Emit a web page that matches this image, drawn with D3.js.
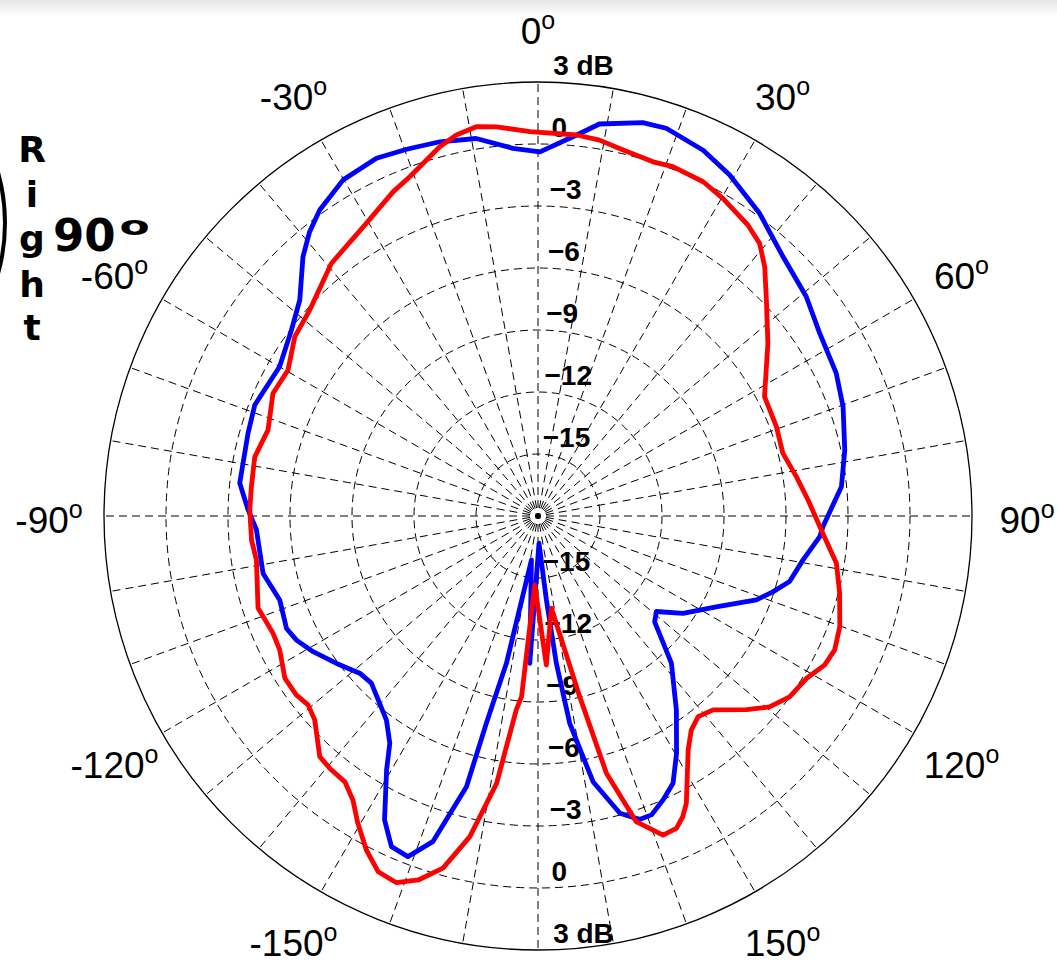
<!DOCTYPE html>
<html>
<head>
<meta charset="utf-8">
<script src="https://cdn.jsdelivr.net/npm/d3@7"></script>
<style>
  body { margin: 0; background: #fff; }
  svg { display: block; }
</style>
</head>
<body>
<div id="chart"></div>
<script>

WIDTH = 1057;
HEIGHT = 964;

CX = 538;
CY = 516;
R_OUT = 434;
R_LABEL = 489;

// dB scale of the rings, -18 dB sits in the centre
var dbDomain = [-18, 3];
var ringDb = [-15, -12, -9, -6, -3, 0];
var ringLabelDb = [-15, -12, -9, -6, -3, 0, 3];
var ringLabels = ["\u221215", "\u221212", "\u22129", "\u22126", "\u22123", "0", "3 dB"];

// angle ticks
var angleTicks = [-150, -120, -90, -60, -30, 0, 30, 60, 90, 120, 150];
var angleTickLabels = ["-150", "-120", "-90", "-60", "-30", "0", "30", "60", "90", "120", "150"];

// blue trace: angle (deg, clockwise from top) and level (dB)
var blueAngle = [-176.8, -171.5, -167.9, -166.0, -165.2, -162.1, -159.1, -156.1, -153.2, -149.2,
    -146.9, -143.4, -135.1, -131.4, -126.2, -121.1, -117.2, -114.1, -108.0, -101.8,
    -92.8, -88.8, -83.7, -74.1, -68.6, -60.0, -53.0, -47.8, -42.2, -38.8,
    -35.5, -30.1, -24.3, -19.7, -14.7, -9.3, -3.9, 0.3, 5.8, 8.9,
    14.9, 18.3, 24.3, 29.3, 36.2, 43.4, 50.7, 57.0, 64.4, 70.3,
    77.9, 84.5, 92.1, 94.2, 99.4, 104.6, 107.9, 111.0, 117.0, 123.9,
    128.9, 132.2, 137.8, 144.5, 149.7, 153.2, 156.2, 159.2, 161.5, 164.6,
    168.3, 171.3, 172.9, 174.3, 177.9];
var blueDb = [-10.86, -15.85, -10.71, -7.67, -4.45, -1.44, -0.36, -0.50, -1.53, -3.69,
    -4.87, -5.70, -6.58, -6.50, -5.92, -5.29, -4.86, -4.67, -4.86, -4.41,
    -4.36, -3.97, -3.48, -3.41, -3.28, -3.56, -3.06, -2.44, -1.07, -0.36,
    0.19, 0.80, 0.99, 0.85, 0.72, 0.51, -0.17, -0.38, 0.53, 1.20,
    1.70, 1.76, 1.42, 0.93, 0.15, -0.74, -1.23, -1.75, -2.00, -2.32,
    -2.82, -3.25, -4.20, -4.33, -5.00, -5.42, -6.06, -6.68, -8.32, -9.55,
    -10.64, -10.38, -8.39, -6.47, -4.71, -3.51, -2.99, -2.53, -2.52, -3.08,
    -4.87, -7.85, -10.82, -13.92, -16.68];

// red trace
var redAngle = [-177.3, -174.8, -173.6, -171.2, -168.0, -164.9, -161.8, -158.9, -155.8, -152.8,
    -149.6, -146.9, -144.0, -140.5, -137.8, -132.4, -129.4, -126.5, -122.7, -117.4,
    -113.9, -108.2, -98.9, -94.8, -88.8, -84.2, -78.2, -72.3, -65.2, -59.7,
    -53.6, -47.9, -39.3, -30.4, -24.1, -20.7, -14.9, -12.1, -9.0, -6.1,
    -1.2, 5.8, 9.3, 13.1, 18.0, 21.1, 26.3, 30.2, 35.8, 39.1,
    42.3, 46.6, 53.1, 62.2, 69.5, 75.6, 81.4, 86.6, 93.5, 99.0,
    104.4, 110.1, 114.3, 117.5, 121.2, 125.7, 129.5, 132.9, 137.9, 141.4,
    144.4, 147.3, 152.7, 154.3, 156.1, 158.6, 162.2, 165.1, 167.0, 171.7,
    176.8];
var redDb = [-14.66, -9.22, -8.56, -4.91, -2.14, -0.35, 0.54, 1.02, 0.87, 0.17,
    -0.77, -1.60, -2.10, -2.17, -2.28, -3.37, -3.60, -3.45, -3.45, -3.92,
    -3.98, -3.74, -4.21, -4.09, -4.05, -4.06, -4.00, -4.29, -3.87, -3.99,
    -3.38, -3.12, -2.21, -1.58, -0.82, -0.45, 0.49, 0.85, 1.07, 0.94,
    0.60, 0.53, 0.43, 0.18, 0.02, 0.12, 0.04, -0.22, -0.64, -1.00,
    -1.70, -2.79, -4.09, -5.61, -5.68, -5.77, -5.35, -4.91, -4.19, -3.38,
    -2.93, -2.45, -2.25, -2.37, -2.82, -3.01, -3.48, -4.23, -5.36, -5.58,
    -5.26, -4.55, -2.35, -1.85, -1.47, -1.42, -2.47, -5.12, -9.03, -13.49,
    -10.78];


var svg = d3.select("#chart").append("svg")
    .attr("width", WIDTH)
    .attr("height", HEIGHT);

// faint grey band along the top edge
var grad = svg.append("defs").append("linearGradient")
    .attr("id", "topband")
    .attr("x1", 0).attr("y1", 0).attr("x2", 0).attr("y2", 1);
grad.append("stop").attr("offset", "0%").attr("stop-color", "#e6e6e6");
grad.append("stop").attr("offset", "100%").attr("stop-color", "#ffffff");
svg.append("rect")
    .attr("x", 0).attr("y", 0)
    .attr("width", WIDTH).attr("height", 16)
    .attr("fill", "url(#topband)");

var r = d3.scaleLinear().domain(dbDomain).range([0, R_OUT]);

var chart = svg.append("g")
    .attr("transform", "translate(" + CX + "," + CY + ")");

// spokes every 10 degrees, dashed outward from the centre
var grid = chart.append("g").attr("class", "grid");

grid.selectAll("line.spoke")
    .data(d3.range(0, 360, 10))
    .enter().append("line")
    .attr("class", "spoke")
    .attr("x1", 0)
    .attr("y1", 0)
    .attr("x2", function(d) { return R_OUT * Math.sin(d * Math.PI / 180); })
    .attr("y2", function(d) { return -R_OUT * Math.cos(d * Math.PI / 180); })
    .attr("stroke", "#000")
    .attr("stroke-width", 1)
    .attr("stroke-dasharray", "8,5")
    .attr("stroke-dashoffset", 5);

grid.selectAll("circle.ring")
    .data(ringDb)
    .enter().append("circle")
    .attr("class", "ring")
    .attr("r", function(d) { return r(d); })
    .attr("fill", "none")
    .attr("stroke", "#000")
    .attr("stroke-width", 1)
    .attr("stroke-dasharray", "8,5");

grid.append("circle")
    .attr("r", r(3))
    .attr("fill", "none")
    .attr("stroke", "#000")
    .attr("stroke-width", 1.3);

// dB labels, above and below the centre
var dbLab = chart.append("g")
    .attr("font-family", "'Liberation Sans', Arial, sans-serif")
    .attr("font-weight", "bold")
    .attr("font-size", 28);

ringLabelDb.forEach(function(v, i) {
    var rr = r(v);
    dbLab.append("text")
        .attr("x", 3 + rr * 0.028)
        .attr("y", -rr - 7)
        .text(ringLabels[i]);
    dbLab.append("text")
        .attr("x", 3 + rr * 0.028)
        .attr("y", rr - 7)
        .text(ringLabels[i]);
});

// angle labels with a raised "o"
var angLab = chart.append("g")
    .attr("font-family", "'Liberation Sans', Arial, sans-serif")
    .attr("fill", "#000");

angleTicks.forEach(function(a, i) {
    var rad = a * Math.PI / 180;
    var t = angLab.append("text")
        .attr("x", R_LABEL * Math.sin(rad))
        .attr("y", -R_LABEL * Math.cos(rad) + 17)
        .attr("text-anchor", "middle");
    t.append("tspan").attr("font-size", 37).text(angleTickLabels[i]);
    t.append("tspan").attr("font-size", 25).attr("dy", -15).text("o");
});

// traces
var line = d3.lineRadial()
    .angle(function(d) { return d[0] * Math.PI / 180; })
    .radius(function(d) { return r(d[1]); })
    .curve(d3.curveLinearClosed);

chart.append("path")
    .datum(d3.zip(blueAngle, blueDb))
    .attr("d", line)
    .attr("fill", "none")
    .attr("stroke", "#0000ff")
    .attr("stroke-width", 4.8)
    .attr("stroke-linejoin", "round");

chart.append("path")
    .datum(d3.zip(redAngle, redDb))
    .attr("d", line)
    .attr("fill", "none")
    .attr("stroke", "#ff0000")
    .attr("stroke-width", 4.8)
    .attr("stroke-linejoin", "round");

// side caption: "Right 90o" and the edge of an outline cut by the frame
svg.append("circle")
    .attr("cx", -182)
    .attr("cy", 223)
    .attr("r", 187)
    .attr("fill", "none")
    .attr("stroke", "#000")
    .attr("stroke-width", 4);

var side = svg.append("g")
    .attr("font-family", "'DejaVu Sans', Verdana, sans-serif")
    .attr("font-weight", "bold")
    .attr("fill", "#000");

var letters = ["R", "i", "g", "h", "t"];
var letterY = [162, 207, 251, 297, 340];
letters.forEach(function(c, i) {
    side.append("text")
        .attr("x", 32)
        .attr("y", letterY[i])
        .attr("text-anchor", "middle")
        .attr("font-size", 36)
        .text(c);
});

side.append("text")
    .attr("x", 53)
    .attr("y", 251)
    .attr("font-size", 45)
    .text("90");

side.append("text")
    .attr("transform", "translate(134.5,227.5) scale(1,0.62)")
    .attr("x", 0)
    .attr("y", 12)
    .attr("text-anchor", "middle")
    .attr("font-size", 44)
    .text("o");

</script>
</body>
</html>
